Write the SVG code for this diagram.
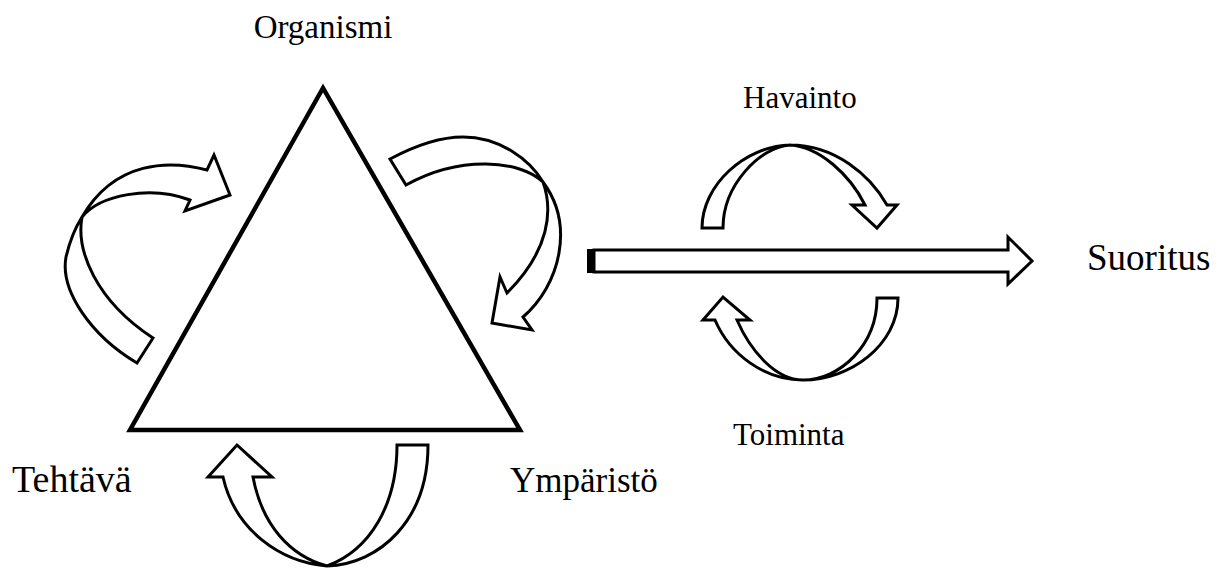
<svg xmlns="http://www.w3.org/2000/svg" width="1225" height="568" viewBox="0 0 1225 568">
<style>
.lbl{font-family:"Liberation Serif","Times New Roman",serif;fill:#000}
.arr{fill:#fff;stroke:#000;stroke-width:3;stroke-linejoin:miter}
.tri{fill:none;stroke:#000;stroke-width:4.5;stroke-linejoin:miter}
</style>
<rect width="1225" height="568" fill="#fff"/>
<g id="triangle">
<polygon class="tri" points="323,88 130,430 520,430"/>
</g>
<g id="organismi"><text class="lbl" x="323" y="38" font-size="33" text-anchor="middle">Organismi</text></g>
<g id="tehtava"><text class="lbl" x="12" y="492" font-size="38">Tehtävä</text></g>
<g id="ymparisto"><text class="lbl" x="510" y="492" font-size="35">Ympäristö</text></g>
<g id="havainto"><text class="lbl" x="743" y="108" font-size="31">Havainto</text></g>
<g id="toiminta"><text class="lbl" x="733" y="445" font-size="31">Toiminta</text></g>
<g id="suoritus"><text class="lbl" x="1087" y="270" font-size="37">Suoritus</text></g>
<g id="connectors">
<path class="arr" d="M137,363 C 90,335 60,290 66,257 C 70,240 75,228 82,217 C 100,195 150,185 190,200 L185,211 L230,195 L214,155 L207,170 C 170,160 115,160 82,217 C 76,250 95,300 153,338 Z"/>
<path class="arr" d="M390,159 C 420,143 445,137 463,137 C 500,137 530,160 543,182 C 553,210 550,250 507,293 L500,277 L492,323 L532,330 L523,317 C 560,285 575,225 543,182 C 520,160 460,155 406,185 Z"/>
<path class="arr" d="M397,445 C 397,505 370,550 327,566 C 290,556 262,525 253,477 L272,477 L237,445 L208,477 L223,477 C 235,530 280,562 327,566 C 380,564 428,520 428,445 Z"/>
<path class="arr" d="M702,228 C 702,185 745,146 790,145 C 835,145 870,175 887,205 L897,205 L877,228 L852,205 L865,205 C 850,175 820,147 790,145 C 760,147 723,185 723,228 Z"/>
<path class="arr" d="M898,298 C 898,345 850,380 803,380 C 765,380 730,355 715,320 L703,320 L723,297 L750,320 L737,320 C 750,350 775,380 803,380 C 840,380 877,345 877,298 Z"/>
<path class="arr" d="M594,250 L1008,250 L1008,237 L1032,261 L1008,284 L1008,272 L594,272 Z"/>
<rect x="587" y="249" width="8" height="24" fill="#000"/>
</g>
</svg>
